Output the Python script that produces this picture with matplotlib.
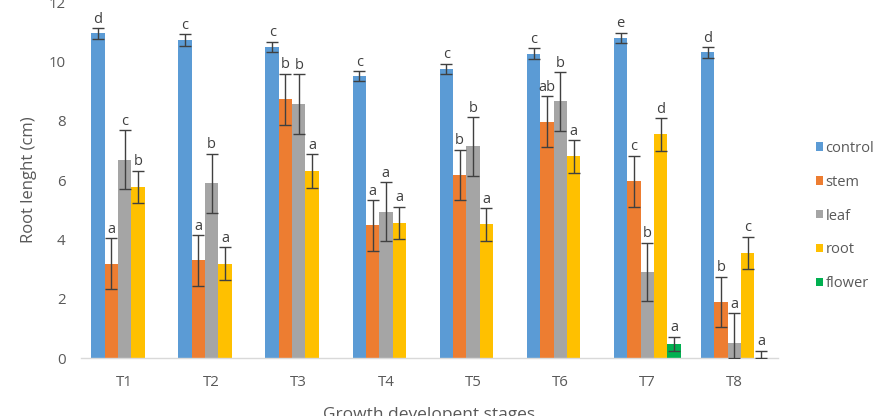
import matplotlib
matplotlib.use("Agg")
import matplotlib.pyplot as plt
import numpy as np

plt.rcParams['font.family'] = ['Open Sans', 'DejaVu Sans']

stages = ["T1", "T2", "T3", "T4", "T5", "T6", "T7", "T8"]
series = ["control", "stem", "leaf", "root", "flower"]
colors = ["#5B9BD5", "#ED7D31", "#A5A5A5", "#FFC000", "#00B050"]

control = [10.94, 10.72, 10.49, 9.50, 9.75, 10.26, 10.80, 10.30]
stem    = [3.19, 3.30, 8.72, 4.48, 6.17, 7.97, 5.96, 1.90]
leaf    = [6.69, 5.90, 8.56, 4.94, 7.14, 8.65, 2.91, 0.51]
root    = [5.77, 3.19, 6.31, 4.56, 4.51, 6.80, 7.54, 3.55]
flower  = [np.nan, np.nan, np.nan, np.nan, np.nan, np.nan, 0.48, 0.0]

control_err = [0.18, 0.19, 0.17, 0.17, 0.17, 0.18, 0.17, 0.17]
stem_err    = [0.85, 0.85, 0.87, 0.85, 0.85, 0.85, 0.86, 0.85]
leaf_err    = [0.99, 0.99, 1.00, 0.99, 0.99, 0.99, 0.99, 1.00]
root_err    = [0.55, 0.55, 0.56, 0.55, 0.55, 0.55, 0.55, 0.55]
flower_err  = [np.nan, np.nan, np.nan, np.nan, np.nan, np.nan, 0.25, 0.26]

control_lbl = ["d", "c", "c", "c", "c", "c", "e", "d"]
stem_lbl    = ["a", "a", "b", "a", "b", "ab", "c", "b"]
leaf_lbl    = ["c", "b", "b", "a", "b", "b", "b", "a"]
root_lbl    = ["b", "a", "a", "a", "a", "a", "d", "c"]
flower_lbl  = ["", "", "", "", "", "", "a", "a"]

values = [control, stem, leaf, root, flower]
errors = [control_err, stem_err, leaf_err, root_err, flower_err]
letters = [control_lbl, stem_lbl, leaf_lbl, root_lbl, flower_lbl]

fig = plt.figure(figsize=(8.77, 4.16), dpi=100)
ax = fig.add_axes([81/877, 1 - 358.3/416, 697/877, 356.3/416])

x = np.arange(len(stages))
w = 0.153
n = len(series)
tick_color = "#595959"

for i, (name, vals, errs, lbls, col) in enumerate(zip(series, values, errors, letters, colors)):
    pos = x + (i - (n - 1) / 2) * w
    v = np.array(vals, dtype=float)
    e = np.array(errs, dtype=float)
    ax.bar(pos, np.nan_to_num(v), width=w, color=col, label=name, zorder=2)
    mask = ~np.isnan(v)
    lower = np.minimum(e, np.nan_to_num(v))
    ax.errorbar(pos[mask], v[mask], yerr=[lower[mask], e[mask]], fmt='none',
                ecolor="#404040", elinewidth=1.0, capsize=4, capthick=1.0, zorder=3)
    for p, val, er, lb in zip(pos, v, e, lbls):
        if lb and not np.isnan(val):
            ax.annotate(lb, (p, val + er), xytext=(0, 1), textcoords="offset points",
                        ha="center", va="bottom", fontsize=10.5, color="#404040")

ax.set_xlim(-0.5, len(stages) - 0.5)
ax.set_ylim(0, 12)
ax.set_yticks(np.arange(0, 13, 2))
ax.set_xticks(x)
ax.set_xticklabels(stages)
ax.tick_params(axis='both', length=0, labelsize=10.8, labelcolor=tick_color)
ax.tick_params(axis='y', pad=11)
ax.tick_params(axis='x', pad=12)
for s in ["top", "right", "left"]:
    ax.spines[s].set_visible(False)
ax.spines["bottom"].set_color("#D9D9D9")
ax.spines["bottom"].set_linewidth(1.0)

ax.set_ylabel("Root lenght (cm)", fontsize=12, color=tick_color)
ax.yaxis.set_label_coords(-0.063, 0.5)
fig.text((81 + 778) / 2 / 877, 1 - 407/416, "Growth developent stages", ha="center", va="top",
         fontsize=12.5, color=tick_color)

leg = fig.legend(loc="center left", bbox_to_anchor=(816/877, 1 - 216/416), frameon=False,
                 fontsize=10.5, labelcolor=tick_color, handlelength=0.5, handleheight=0.5,
                 handletextpad=0.15, labelspacing=1.3, borderpad=0, borderaxespad=0)

fig.savefig("out.png", dpi=100)
